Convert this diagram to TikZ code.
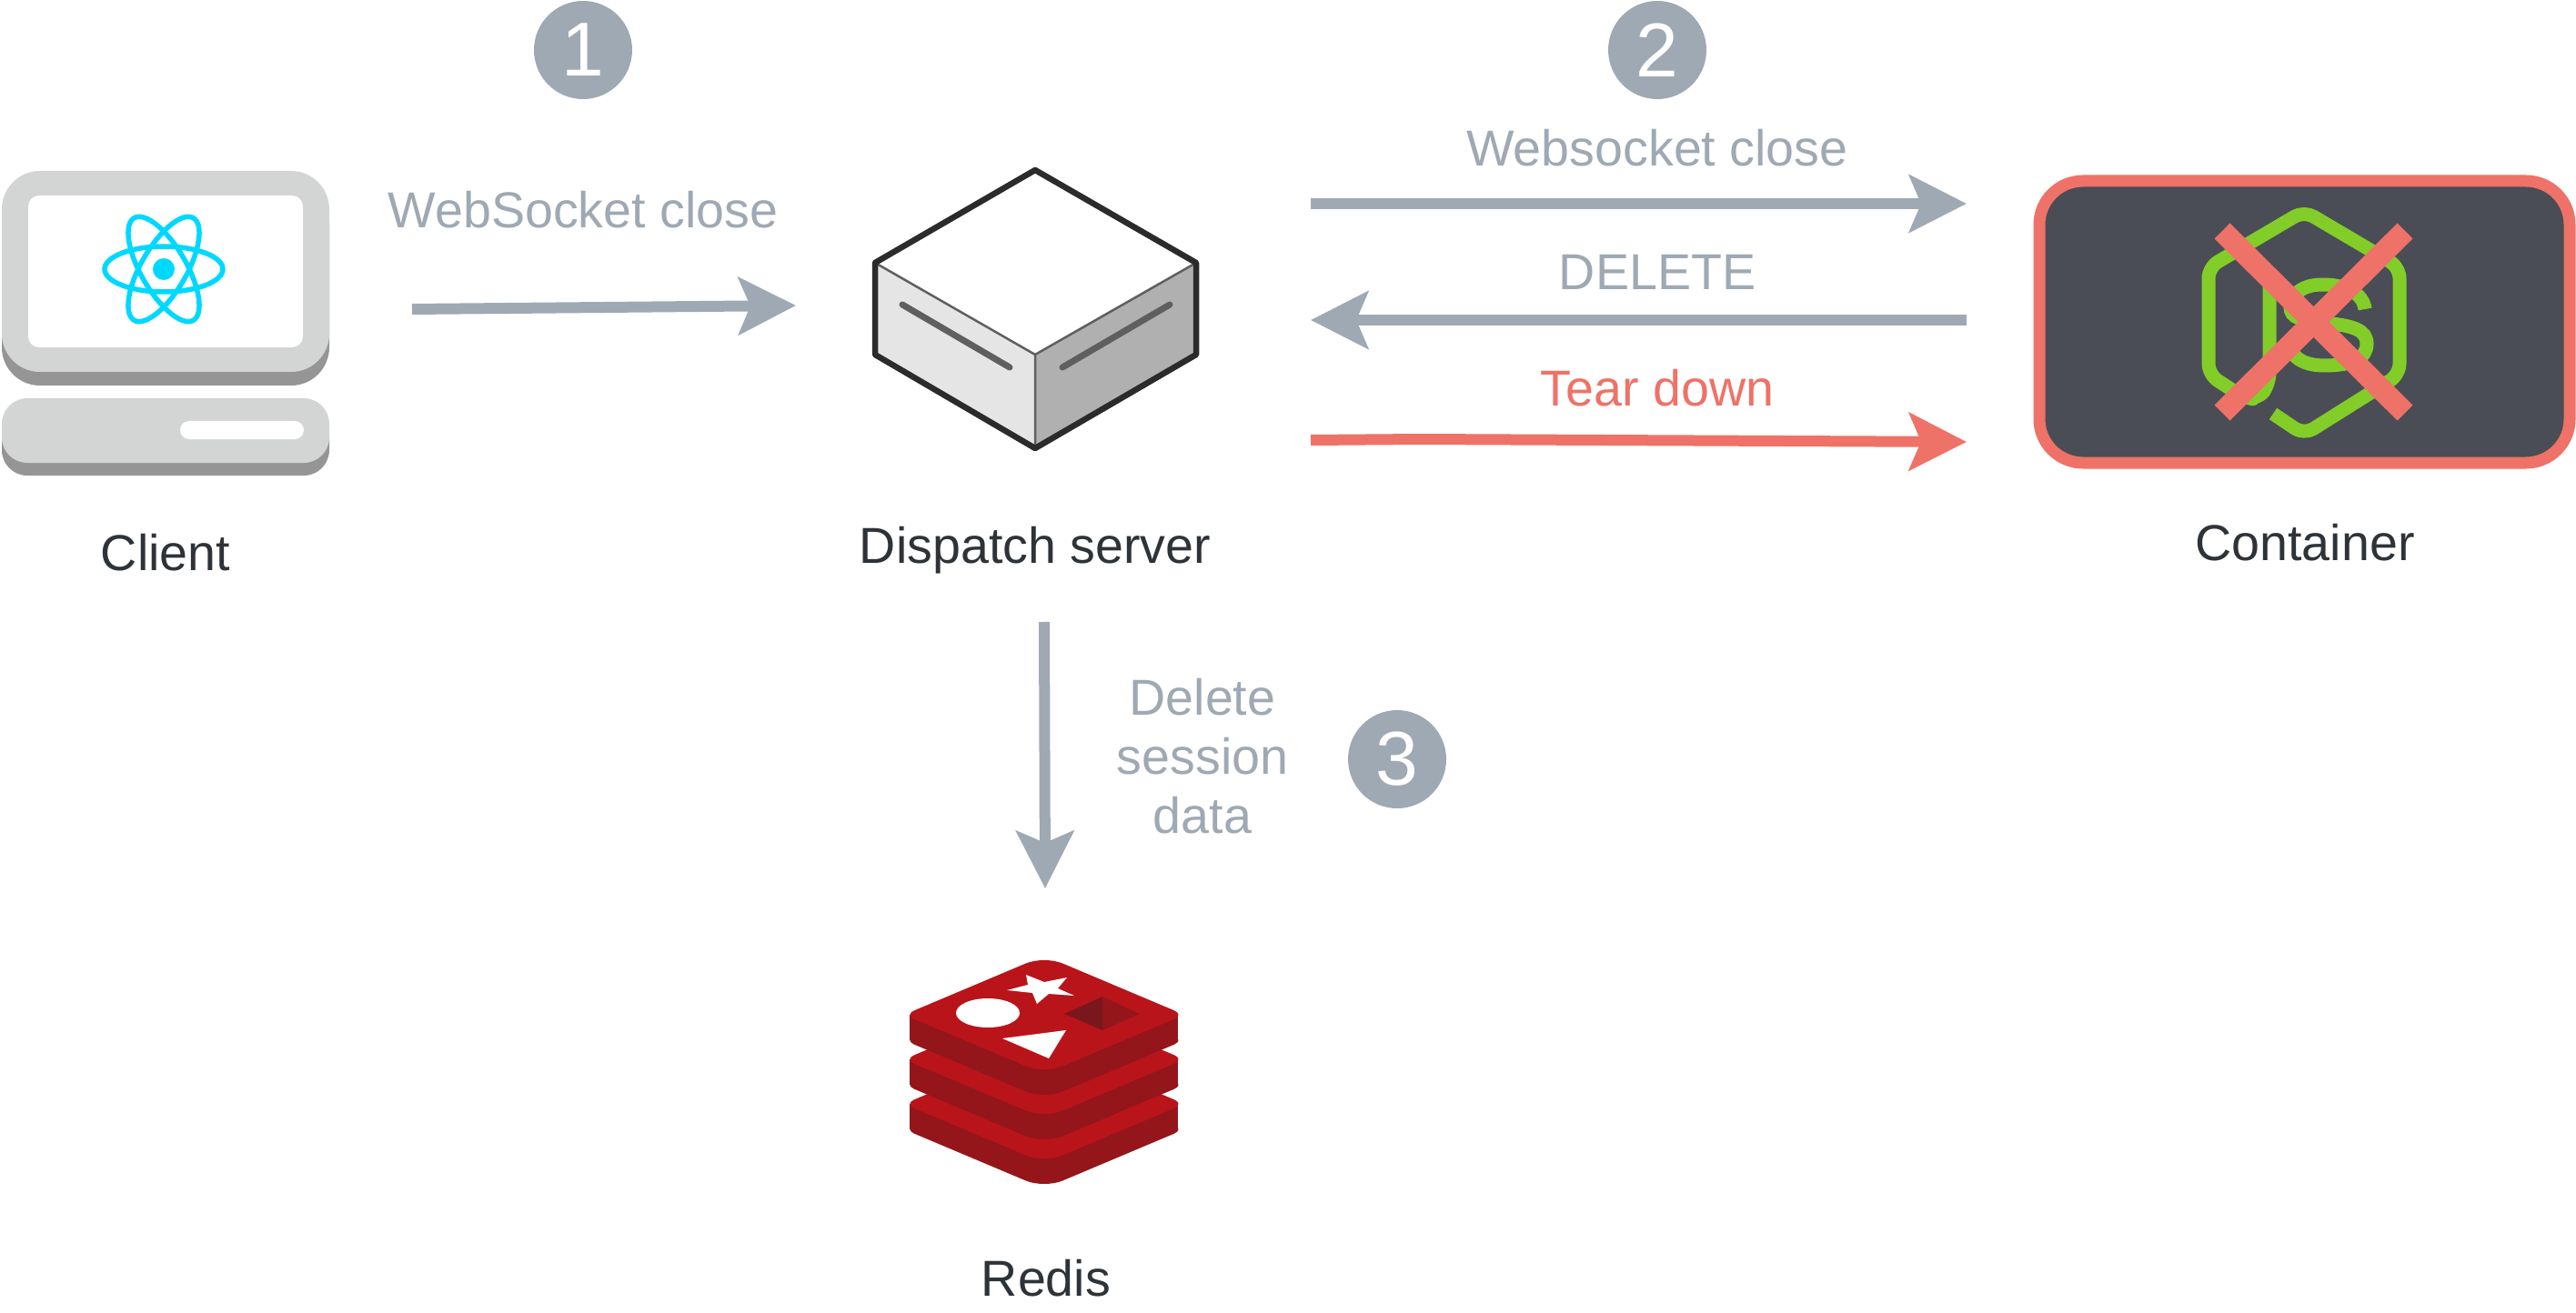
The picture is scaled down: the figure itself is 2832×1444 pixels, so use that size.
\documentclass[tikz,border=0pt]{standalone}
\usepackage{fontspec}
\setmainfont{Liberation Sans}
\usetikzlibrary{arrows.meta}
\definecolor{flowgray}{HTML}{9FA9B3}
\definecolor{flowred}{HTML}{EE7267}
\definecolor{labeldark}{HTML}{2E3338}
\definecolor{pcbody}{HTML}{D3D5D4}
\definecolor{pcshade}{HTML}{959595}
\definecolor{reactblue}{HTML}{00D8FF}
\definecolor{nodegreen}{HTML}{83CD29}
\definecolor{boxdark}{HTML}{4A4D55}
\definecolor{boxedge}{HTML}{2B2B2B}
\definecolor{boxslot}{HTML}{5F5F5F}
\definecolor{redistop}{HTML}{B9141A}
\definecolor{redisside}{HTML}{94161A}
\definecolor{redisdeep}{HTML}{7A171C}
\newcommand{\slabface}[1]{(1071,1083.5) [rounded corners=11pt] -- (1148,1051) -- (1225,1083.5) [rounded corners=6pt] -- (1302,1116) -- (1225,1148.5) [rounded corners=11pt] -- (1148,1181) -- (1071,1148.5) [rounded corners=6pt] -- (994,1116) -- cycle}
\newcommand{\redisslab}[1]{
\begin{scope}[shift={(0,#1)}]
\fill[redisside] (1000,1116) rectangle (1295,1144);
\begin{scope}[shift={(0,28)}]
\fill[redisside] \slabface{};
\end{scope}
\fill[redistop] \slabface{};
\end{scope}}
\begin{document}
\begin{tikzpicture}[x=0.5pt, y=-0.5pt,
  lbl/.style = {anchor=base, inner sep=0pt, font=\fontsize{27.8}{32.5}\selectfont},
  numdot/.style = {circle, fill=flowgray, text=white, minimum size=54pt, inner sep=0pt, font=\fontsize{42}{42}\selectfont},
  flow/.style = {line width=6pt, draw=flowgray, -{Stealth[length=31.5pt, width=31.5pt, inset=6.5pt]}},
  orbit/.style = {draw=reactblue, line width=2.75pt},
  nodeline/.style = {draw=nodegreen, line width=7.5pt}]
\useasboundingbox (0,0) rectangle (2832,1444);
\fill[pcshade, rounded corners=21pt] (2,203) rectangle (362,424);
\fill[pcbody, rounded corners=21pt] (2,188) rectangle (362,409);
\fill[white, rounded corners=6pt] (31,215) rectangle (333,382);
\draw[orbit] (180,296) ellipse [x radius=65, y radius=25];
\draw[orbit, rotate around={60:(180,296)}] (180,296) ellipse [x radius=65, y radius=25];
\draw[orbit, rotate around={120:(180,296)}] (180,296) ellipse [x radius=65, y radius=25];
\fill[reactblue] (180,296) circle [radius=12];
\fill[pcshade, rounded corners=14pt] (2,452) rectangle (362,523);
\fill[pcbody, rounded corners=14pt] (2,438) rectangle (362,509);
\fill[white, rounded corners=5pt] (198,463) rectangle (334,483);
\node[lbl, text=labeldark] (client) at (182,627) {Client};
\fill[white] (1138,187) -- (1315,289) -- (1138,390) -- (962,289) -- cycle;
\fill[black!10] (962,289) -- (1138,390) -- (1138,493) -- (962,390) -- cycle;
\fill[black!31] (1315,289) -- (1138,390) -- (1138,493) -- (1315,390) -- cycle;
\draw[boxslot, line width=1.25pt] (962,289) -- (1138,390) -- (1315,289) (1138,390) -- (1138,493);
\draw[boxslot, line width=3.5pt, line cap=round] (992,335) -- (1110,404);
\draw[boxslot, line width=3.5pt, line cap=round] (1168,404) -- (1286,335);
\draw[boxedge, line width=3.25pt, line join=round] (1138,187) -- (1315,289) -- (1315,390) -- (1138,493) -- (962,390) -- (962,289) -- cycle;
\node[lbl, text=labeldark] (server) at (1138,619) {Dispatch server};
\node[draw=flowred, fill=boxdark, line width=6.5pt, rounded corners=24pt, minimum width=291.5pt, minimum height=155pt, inner sep=0pt] (box) at (2533.5,354) {};
\draw[nodeline, line join=round, rounded corners=6pt] (2495,313) -- (2495,422) -- (2482,440) -- (2465,436) -- (2428,412) -- (2428,294) -- (2533,232) -- (2638,294) -- (2638,412) -- (2533,478) -- (2499,455);
\draw[nodeline] (2600,340) .. controls (2598,322) and (2578,313) .. (2553,313) .. controls (2530,313) and (2518,325) .. (2518,338) .. controls (2518,350) and (2530,352) .. (2555,355) .. controls (2585,358) and (2602,362) .. (2602,378) .. controls (2602,395) and (2585,402) .. (2555,402) .. controls (2540,402) and (2528,398) .. (2522,390);
\draw[flowred, line width=12pt] (2443,254) -- (2644,454);
\draw[flowred, line width=12pt] (2644,254) -- (2443,454);
\node[lbl, text=labeldark] (container) at (2534,616) {Container};
\redisslab{98}
\redisslab{49}
\redisslab{0}
\fill[white] (1128,1072) -- (1148,1080) -- (1173,1075) -- (1163,1087) -- (1181,1095) -- (1153,1093) -- (1140,1104) -- (1135,1092) -- (1107,1089) -- (1130,1083) -- cycle;
\fill[white] (1086,1114) ellipse [x radius=35, y radius=16];
\fill[white] (1102,1142) -- (1172,1133) -- (1153,1164) -- cycle;
\fill[redisdeep] (1170,1115) -- (1212,1096) -- (1212,1133) -- cycle;
\fill[redisside] (1253,1115) -- (1212,1096) -- (1212,1133) -- cycle;
\node[lbl, text=labeldark] (redis) at (1150,1425) {Redis};
\coordinate (clientout) at (453,340);
\coordinate (serverin) at (875,336);
\coordinate (serverout) at (1441,224);
\coordinate (boxin) at (2162,224);
\coordinate (boxout) at (2162,352);
\coordinate (serverback) at (1441,352);
\coordinate (teardown) at (1441,484);
\coordinate (teardownbend) at (1561,483);
\coordinate (teardownend) at (2162,486);
\coordinate (serverdown) at (1148,684);
\coordinate (redisin) at (1149,977);
\draw[flow] (clientout) -- (serverin);
\draw[flow] (serverout) -- (boxin);
\draw[flow] (boxout) -- (serverback);
\draw[flow, draw=flowred] (teardown) -- (teardownbend) -- (teardownend);
\draw[flow] (serverdown) -- (redisin);
\node[lbl, text=flowgray] (closeone) at (641,251) {WebSocket close};
\node[lbl, text=flowgray] (closetwo) at (1822,183) {Websocket close};
\node[lbl, text=flowgray] (deletecall) at (1822,319) {DELETE};
\node[lbl, text=flowred] (teardownlbl) at (1822,447) {Tear down};
\node[lbl, text=flowgray, align=center] (sessionlbl) at (1322,916) {Delete\\session\\data};
\node[numdot] (one) at (641,55) {1};
\node[numdot] (two) at (1822,55) {2};
\node[numdot] (three) at (1536,835) {3};
\end{tikzpicture}
\end{document}
